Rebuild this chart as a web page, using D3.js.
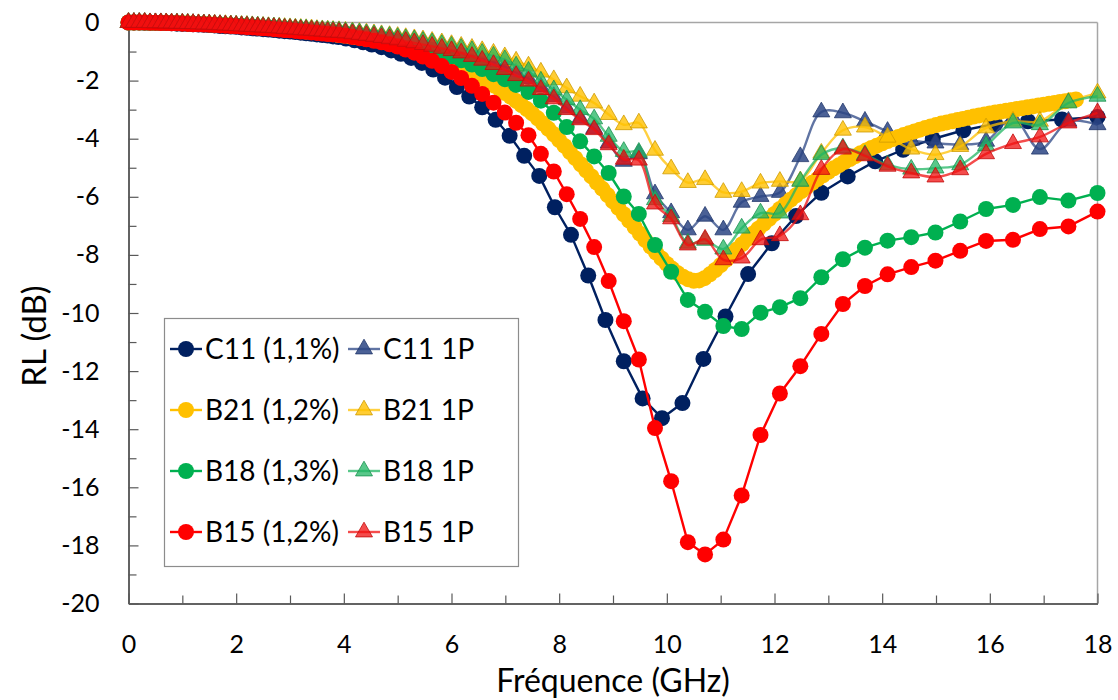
<!DOCTYPE html>
<html>
<head>
<meta charset="utf-8">
<script src="https://cdn.jsdelivr.net/npm/d3@7"></script>
<style>
  html, body { margin: 0; padding: 0; background: #ffffff; }
  svg { display: block; font-family: Lato, "Open Sans", "DejaVu Sans", sans-serif; }
</style>
</head>
<body>
<svg id="chart" width="1118" height="700"></svg>
<script>
// ---------------- DATA ----------------
// Frequency grids (GHz)
const lowFreq = [0,0.1,0.2,0.3,0.4,0.5,0.6,0.7,0.8,0.9,1.0,1.1,1.2,1.3,1.4,1.5,1.6,1.7,1.8,1.9,2.0,2.1,2.2,2.3,2.4,2.5,2.6,2.7,2.8,2.9,3.0,3.1,3.2,3.3,3.4,3.5,3.6,3.7,3.8];
const logFreqA = [3.91,4.03,4.16,4.29,4.42,4.56,4.70,4.85,5.00,5.15,5.31,5.47,5.64,5.82,6.00,6.18,6.38,6.57,6.78,6.99,7.20,7.43,7.66,7.90,8.14,8.39,8.65,8.92,9.20,9.48,9.78,10.08,10.39,10.71,11.05,11.39,11.74,12.10,12.48,12.87,13.27,13.68,14.10,14.54,14.99,15.45,15.93,16.43,16.93,17.46,18.00];
const logFreqC = [3.90,4.04,4.20,4.36,4.52,4.70,4.88,5.06,5.25,5.45,5.66,5.88,6.10,6.33,6.57,6.82,7.08,7.35,7.63,7.92,8.22,8.54,8.86,9.20,9.55,9.91,10.29,10.68,11.09,11.51,11.95,12.40,12.87,13.36,13.87,14.39,14.94,15.51,16.10,16.71,17.34,18.00];
const freqB21 = [0,0.1,0.2,0.3,0.4,0.5,0.6,0.7,0.8,0.9,1.0,1.1,1.2,1.3,1.4,1.5,1.6,1.7,1.8,1.9,2.0,2.1,2.2,2.3,2.4,2.5,2.6,2.7,2.8,2.9,3.0,3.1,3.2,3.3,3.4,3.5,3.6,3.7,3.8,3.9,4.0,4.1,4.2,4.3,4.4,4.5,4.6,4.7,4.8,4.9,5.0,5.1,5.2,5.3,5.4,5.5,5.6,5.7,5.8,5.9,6.0,6.1,6.2,6.3,6.4,6.5,6.6,6.7,6.8,6.9,7.0,7.1,7.2,7.3,7.4,7.5,7.6,7.7,7.8,7.9,8.0,8.1,8.2,8.3,8.4,8.5,8.6,8.7,8.8,8.9,9.0,9.1,9.2,9.3,9.4,9.5,9.6,9.7,9.8,9.9,10.0,10.1,10.2,10.3,10.4,10.5,10.6,10.7,10.8,10.9,11.0,11.1,11.2,11.3,11.4,11.5,11.6,11.7,11.8,11.9,12.0,12.1,12.2,12.3,12.4,12.5,12.6,12.7,12.8,12.9,13.0,13.1,13.2,13.3,13.4,13.5,13.6,13.7,13.8,13.9,14.0,14.1,14.2,14.3,14.4,14.5,14.6,14.7,14.8,14.9,15.0,15.1,15.2,15.3,15.4,15.5,15.6,15.7,15.8,15.9,16.0,16.1,16.2,16.3,16.4,16.5,16.6,16.7,16.8,16.9,17.0,17.1,17.2,17.3,17.4,17.5,17.6];

// RL values (dB)
const c11 = [0,0,0,-0.01,-0.01,-0.01,-0.02,-0.02,-0.03,-0.04,-0.05,-0.05,-0.06,-0.07,-0.08,-0.09,-0.10,-0.12,-0.13,-0.14,-0.15,-0.17,-0.18,-0.20,-0.21,-0.23,-0.24,-0.26,-0.28,-0.30,-0.31,-0.33,-0.35,-0.37,-0.39,-0.41,-0.43,-0.45,-0.48,
  -0.50,-0.55,-0.61,-0.68,-0.76,-0.85,-0.96,-1.08,-1.22,-1.39,-1.62,-1.90,-2.22,-2.55,-2.92,-3.35,-3.90,-4.59,-5.28,-6.36,-7.31,-8.71,-10.24,-11.66,-12.94,-13.62,-13.10,-11.58,-10.12,-8.66,-7.60,-6.66,-5.86,-5.30,-4.78,-4.38,-4.01,-3.71,-3.49,-3.40,-3.34,-3.25];
const c11_1P = [0,0,0,0,-0.01,-0.01,-0.01,-0.02,-0.02,-0.03,-0.03,-0.04,-0.04,-0.05,-0.06,-0.06,-0.07,-0.08,-0.09,-0.09,-0.10,-0.11,-0.12,-0.13,-0.14,-0.15,-0.16,-0.17,-0.19,-0.20,-0.21,-0.22,-0.24,-0.25,-0.26,-0.28,-0.29,-0.30,-0.31,
  -0.32,-0.34,-0.37,-0.40,-0.43,-0.46,-0.50,-0.54,-0.58,-0.62,-0.67,-0.72,-0.78,-0.85,-0.92,-1.00,-1.10,-1.22,-1.36,-1.52,-1.72,-1.93,-2.22,-2.55,-2.95,-3.30,-3.65,-4.15,-4.78,-4.52,-5.90,-6.55,-7.14,-6.67,-7.14,-6.19,-5.99,-5.85,-4.62,-3.08,-3.11,-3.40,-3.75,-4.05,-4.15,-4.20,-4.09,-3.29,-4.36,-3.40,-3.52];
const b21 = [0,0,0,0,-0.01,-0.01,-0.01,-0.01,-0.02,-0.02,
  -0.03,-0.03,-0.04,-0.05,-0.05,-0.06,-0.07,-0.08,-0.09,-0.10,
  -0.11,-0.12,-0.14,-0.15,-0.16,-0.18,-0.19,-0.20,-0.22,-0.24,
  -0.25,-0.27,-0.29,-0.31,-0.32,-0.34,-0.36,-0.38,-0.40,-0.43,
  -0.45,-0.47,-0.50,-0.52,-0.55,-0.58,-0.61,-0.65,-0.69,-0.73,
  -0.78,-0.83,-0.88,-0.93,-0.99,-1.05,-1.12,-1.19,-1.26,-1.34,
  -1.42,-1.50,-1.58,-1.66,-1.75,-1.85,-1.96,-2.07,-2.18,-2.30,
  -2.43,-2.56,-2.70,-2.84,-2.98,-3.13,-3.30,-3.48,-3.66,-3.85,
  -4.05,-4.25,-4.46,-4.67,-4.88,-5.09,-5.30,-5.51,-5.72,-5.94,
  -6.16,-6.38,-6.60,-6.82,-7.04,-7.27,-7.49,-7.71,-7.92,-8.12,
  -8.31,-8.48,-8.63,-8.75,-8.84,-8.89,-8.88,-8.80,-8.67,-8.52,
  -8.35,-8.17,-7.99,-7.81,-7.63,-7.45,-7.27,-7.10,-6.93,-6.76,
  -6.59,-6.42,-6.26,-6.10,-5.95,-5.80,-5.66,-5.52,-5.39,-5.26,
  -5.14,-5.02,-4.91,-4.80,-4.70,-4.60,-4.50,-4.41,-4.32,-4.24,
  -4.16,-4.08,-4.01,-3.94,-3.87,-3.81,-3.75,-3.69,-3.63,-3.58,
  -3.53,-3.48,-3.44,-3.40,-3.36,-3.32,-3.28,-3.24,-3.20,-3.17,
  -3.13,-3.10,-3.07,-3.04,-3.01,-2.98,-2.95,-2.92,-2.89,-2.86,
  -2.83,-2.80,-2.77,-2.74,-2.71,-2.68,-2.65];
const b21_1P = [0,0,0,0,-0.01,-0.01,-0.01,-0.01,-0.02,-0.02,-0.03,-0.03,-0.04,-0.04,-0.05,-0.05,-0.06,-0.07,-0.07,-0.08,-0.09,-0.10,-0.10,-0.11,-0.12,-0.13,-0.14,-0.15,-0.16,-0.17,-0.18,-0.19,-0.20,-0.21,-0.22,-0.24,-0.25,-0.26,-0.27,
  -0.28,-0.30,-0.32,-0.34,-0.36,-0.39,-0.42,-0.45,-0.48,-0.52,-0.56,-0.60,-0.65,-0.70,-0.76,-0.82,-0.89,-0.97,-1.06,-1.18,-1.33,-1.50,-1.71,-1.97,-2.25,-2.54,-2.77,-3.17,-3.52,-3.46,-4.40,-5.04,-5.51,-5.41,-5.85,-5.82,-5.53,-5.47,-5.45,-4.50,-3.71,-3.60,-3.95,-4.36,-4.55,-4.27,-3.63,-3.40,-3.40,-2.75,-2.43];
const b18 = [0,0,0,0,-0.01,-0.01,-0.01,-0.02,-0.02,-0.03,-0.03,-0.04,-0.05,-0.05,-0.06,-0.07,-0.08,-0.09,-0.10,-0.10,-0.11,-0.12,-0.14,-0.15,-0.16,-0.17,-0.18,-0.19,-0.21,-0.22,-0.23,-0.25,-0.26,-0.27,-0.29,-0.31,-0.32,-0.34,-0.35,
  -0.36,-0.39,-0.42,-0.45,-0.48,-0.52,-0.56,-0.60,-0.65,-0.70,-0.77,-0.85,-0.94,-1.05,-1.17,-1.30,-1.45,-1.60,-1.78,-1.95,-2.15,-2.39,-2.69,-3.11,-3.60,-4.09,-4.61,-5.18,-5.99,-6.59,-7.66,-8.58,-9.55,-9.96,-10.45,-10.55,-9.99,-9.80,-9.49,-8.77,-8.15,-7.75,-7.51,-7.39,-7.23,-6.85,-6.42,-6.28,-6.01,-6.13,-5.87];
const b18_1P = [0,0,0,0,-0.01,-0.01,-0.01,-0.02,-0.02,-0.02,-0.03,-0.03,-0.04,-0.05,-0.05,-0.06,-0.07,-0.07,-0.08,-0.09,-0.10,-0.11,-0.11,-0.12,-0.13,-0.14,-0.15,-0.16,-0.17,-0.19,-0.20,-0.21,-0.22,-0.23,-0.25,-0.26,-0.27,-0.28,-0.29,
  -0.30,-0.32,-0.34,-0.36,-0.39,-0.42,-0.45,-0.48,-0.52,-0.56,-0.60,-0.65,-0.70,-0.76,-0.82,-0.89,-0.97,-1.06,-1.16,-1.28,-1.50,-1.68,-2.02,-2.32,-2.66,-3.00,-3.32,-3.92,-4.44,-4.47,-6.10,-6.68,-7.60,-7.50,-7.80,-7.08,-6.56,-6.56,-5.47,-4.55,-4.32,-4.55,-4.90,-5.05,-5.01,-4.90,-4.24,-3.46,-3.52,-2.77,-2.54];
const b15 = [0,0,0,0,-0.01,-0.01,-0.02,-0.02,-0.03,-0.03,-0.04,-0.05,-0.06,-0.06,-0.07,-0.08,-0.09,-0.10,-0.11,-0.12,-0.13,-0.15,-0.16,-0.17,-0.18,-0.20,-0.21,-0.23,-0.24,-0.26,-0.27,-0.29,-0.31,-0.32,-0.34,-0.36,-0.38,-0.40,-0.41,
  -0.43,-0.46,-0.50,-0.54,-0.58,-0.63,-0.68,-0.75,-0.83,-0.93,-1.04,-1.17,-1.32,-1.50,-1.70,-1.91,-2.18,-2.46,-2.76,-3.10,-3.45,-3.88,-4.52,-5.13,-5.91,-6.76,-7.73,-8.90,-10.28,-11.60,-13.96,-15.79,-17.89,-18.31,-17.80,-16.28,-14.20,-12.77,-11.83,-10.72,-9.69,-9.07,-8.67,-8.42,-8.20,-7.86,-7.52,-7.48,-7.11,-7.02,-6.51];
const b15_1P = [0,0,0,0,-0.01,-0.01,-0.01,-0.02,-0.02,-0.03,-0.03,-0.04,-0.04,-0.05,-0.06,-0.06,-0.07,-0.08,-0.09,-0.10,-0.11,-0.12,-0.13,-0.14,-0.15,-0.16,-0.17,-0.18,-0.19,-0.21,-0.22,-0.23,-0.25,-0.26,-0.27,-0.29,-0.30,-0.32,-0.33,
  -0.34,-0.36,-0.39,-0.42,-0.45,-0.48,-0.52,-0.56,-0.60,-0.65,-0.70,-0.76,-0.82,-0.89,-0.97,-1.05,-1.17,-1.30,-1.45,-1.62,-1.83,-2.02,-2.31,-2.63,-3.00,-3.35,-3.69,-4.21,-4.71,-4.74,-6.25,-6.76,-7.66,-7.46,-8.17,-8.11,-7.48,-7.34,-6.62,-5.06,-4.36,-4.59,-4.95,-5.18,-5.32,-5.07,-4.52,-4.17,-3.94,-3.46,-3.11];

const seriesNames = ["C11 (1,1%)","C11 1P","B21 (1,2%)","B21 1P","B18 (1,3%)","B18 1P","B15 (1,2%)","B15 1P"];
const xTicks = [0,2,4,6,8,10,12,14,16,18];
const xMinorTicks = [1,3,5,7,9,11,13,15,17];
const yTicks = [0,-2,-4,-6,-8,-10,-12,-14,-16,-18,-20];
const yMinorTicks = [-1,-3,-5,-7,-9,-11,-13,-15,-17,-19];
const xTitle = "Fréquence (GHz)";
const yTitle = "RL (dB)";

// ---------------- BUILD ----------------
const freqA = lowFreq.concat(logFreqA);
const freqC = lowFreq.concat(logFreqC);

const styles = [
  {color:"#002060", shape:"circle", smooth:false, op:1},
  {color:"#2B4584", shape:"triangle", smooth:true, op:0.85},
  {color:"#FFC000", shape:"circle", smooth:false, op:1},
  {color:"#FFC000", shape:"triangle", smooth:true, op:0.8},
  {color:"#00B050", shape:"circle", smooth:false, op:1},
  {color:"#22B563", shape:"triangle", smooth:true, op:0.75},
  {color:"#FF0000", shape:"circle", smooth:false, op:1},
  {color:"#F01010", shape:"triangle", smooth:true, op:0.75}
];
const freqs = [freqC, freqA, freqB21, freqA, freqA, freqA, freqA, freqA];
const vals = [c11, c11_1P, b21, b21_1P, b18, b18_1P, b15, b15_1P];

const series = seriesNames.map((name, i) => {
  const n = Math.min(freqs[i].length, vals[i].length);
  if (freqs[i].length !== vals[i].length) console.warn("length mismatch", name, freqs[i].length, vals[i].length);
  return {name, ...styles[i], points: d3.range(n).map(k => ({f: freqs[i][k], v: vals[i][k]}))};
});

const svg = d3.select("#chart");
const L = 128.5, R = 1097.5, T = 22.5, B = 603.5;
const x = d3.scaleLinear().domain([0, 18]).range([L, R]);
const y = d3.scaleLinear().domain([-20, 0]).range([B, T]);

const axisColor = "#595959";

// frame top/right
svg.append("line").attr("x1", L).attr("x2", R).attr("y1", T).attr("y2", T)
  .attr("stroke", "#A6A6A6").attr("stroke-width", 1.5);
svg.append("line").attr("x1", R).attr("x2", R).attr("y1", T).attr("y2", B)
  .attr("stroke", "#A6A6A6").attr("stroke-width", 1.5);

// axes
const gx = svg.append("g").attr("transform", `translate(0,${B})`)
  .call(d3.axisBottom(x).tickValues(xTicks).tickSizeInner(-10).tickSizeOuter(0).tickPadding(32).tickFormat(d3.format("d")));
const gxm = svg.append("g").attr("transform", `translate(0,${B})`)
  .call(d3.axisBottom(x).tickValues(xMinorTicks).tickSizeInner(-8).tickSizeOuter(0).tickFormat(""));
const gy = svg.append("g").attr("transform", `translate(${L},0)`)
  .call(d3.axisLeft(y).tickValues(yTicks).tickSizeInner(-10).tickSizeOuter(0).tickPadding(29).tickFormat(d3.format("d")));
const gym = svg.append("g").attr("transform", `translate(${L},0)`)
  .call(d3.axisLeft(y).tickValues(yMinorTicks).tickSizeInner(-8).tickSizeOuter(0).tickFormat(""));
[gx, gxm, gy, gym].forEach(g => {
  g.select(".domain").attr("stroke", axisColor).attr("stroke-width", 1.5);
  g.selectAll(".tick line").attr("stroke", axisColor).attr("stroke-width", 1.2);
  g.selectAll(".tick text").attr("fill", "#000").style("font-size", "25px").style("font-family", "Lato, 'Open Sans', sans-serif");
});
gy.selectAll(".tick text").text(d => d === 0 ? "0" : String(d));

// titles
svg.append("text").attr("x", (L + R) / 2).attr("y", 692).attr("text-anchor", "middle")
  .style("font-size", "32px").attr("fill", "#000").text(xTitle);
svg.append("text").attr("transform", "translate(46,336) rotate(-90)").attr("text-anchor", "middle")
  .style("font-size", "33px").attr("fill", "#000").text(yTitle);

// series
const triSym = d3.symbol().type(d3.symbolTriangle).size(125);
series.forEach(s => {
  const g = svg.append("g");
  const line = d3.line().x(d => x(d.f)).y(d => y(d.v))
    .curve(s.smooth ? d3.curveCatmullRom.alpha(0.5) : d3.curveLinear);
  g.append("path").datum(s.points).attr("d", line).attr("fill", "none")
    .attr("stroke", s.color).attr("stroke-width", 2.4).attr("stroke-opacity", s.shape === "triangle" ? 0.75 : 1)
    .attr("stroke-linejoin", "round");
  if (s.shape === "circle") {
    g.selectAll("circle").data(s.points).join("circle")
      .attr("cx", d => x(d.f)).attr("cy", d => y(d.v)).attr("r", 8)
      .attr("fill", s.color);
  } else {
    g.selectAll("path.m").data(s.points).join("path").attr("class", "m")
      .attr("transform", d => `translate(${x(d.f)},${y(d.v)})`)
      .attr("d", triSym)
      .attr("fill", s.color).attr("fill-opacity", s.op)
      .attr("stroke", d3.color(s.color).darker(0.6)).attr("stroke-opacity", 0.8).attr("stroke-width", 1);
  }
});

// legend
const lg = svg.append("g");
lg.append("rect").attr("x", 164.5).attr("y", 318.5).attr("width", 354).attr("height", 248)
  .attr("fill", "#fff").attr("stroke", "#8C8C8C").attr("stroke-width", 1.2);
const rowsY = [349, 410, 471, 532];
const colX = [170, 348];
series.forEach((s, i) => {
  const row = Math.floor(i / 2), col = i % 2;
  const cy = rowsY[row], x0 = colX[col];
  const e = lg.append("g");
  e.append("line").attr("x1", x0).attr("x2", x0 + 32).attr("y1", cy).attr("y2", cy)
    .attr("stroke", s.color).attr("stroke-width", 2.4).attr("stroke-opacity", s.shape === "triangle" ? 0.75 : 1);
  if (s.shape === "circle") {
    e.append("circle").attr("cx", x0 + 16).attr("cy", cy).attr("r", 8).attr("fill", s.color);
  } else {
    e.append("path").attr("transform", `translate(${x0 + 16},${cy})`).attr("d", triSym)
      .attr("fill", s.color).attr("fill-opacity", s.op)
      .attr("stroke", d3.color(s.color).darker(0.6)).attr("stroke-opacity", 0.8).attr("stroke-width", 1);
  }
  e.append("text").attr("x", x0 + 35).attr("y", cy + 10).style("font-size", "28px")
    .attr("fill", "#000").text(s.name);
});
</script>
</body>
</html>
